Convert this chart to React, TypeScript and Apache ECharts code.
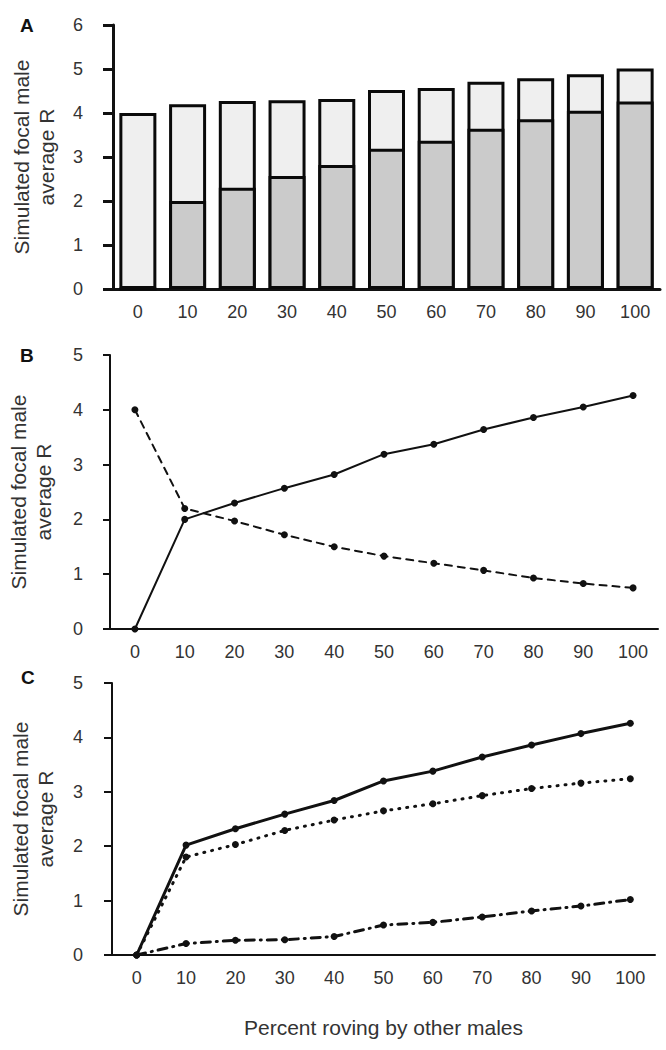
import React, { useEffect, useRef } from "react";
import * as echarts from "echarts";

const categories = ["0", "10", "20", "30", "40", "50", "60", "70", "80", "90", "100"];
// Panel A / B: roving vs sitting components of focal male R
const rovingR = [0, 2.0, 2.3, 2.57, 2.82, 3.19, 3.37, 3.64, 3.86, 4.05, 4.26];
const sittingR = [4.0, 2.2, 1.97, 1.72, 1.5, 1.33, 1.2, 1.07, 0.93, 0.83, 0.75];
// Panel C
const totalC = [0, 2.02, 2.32, 2.59, 2.84, 3.2, 3.38, 3.64, 3.86, 4.07, 4.26];
const dottedC = [0, 1.8, 2.03, 2.29, 2.48, 2.65, 2.78, 2.93, 3.06, 3.16, 3.24];
const dashDotC = [0, 0.21, 0.27, 0.28, 0.34, 0.55, 0.6, 0.7, 0.81, 0.9, 1.02];

const yTitle = "Simulated focal male\naverage R";
const xTitle = "Percent roving by other males";
const FONT = "Liberation Sans, Arial, sans-serif";

export default function App() {
  const ref = useRef<HTMLDivElement>(null);
  useEffect(() => {
    document.body.style.margin = "0";
    if (!ref.current) return;
    const chart = echarts.init(ref.current, undefined, { renderer: "svg" });

    // stacked total for panel A (roving + sitting)
    const totalA = rovingR.map((v, i) => Math.round((v + sittingR[i]) * 100) / 100);

    const yAxisBase = (grid: number, max: number, axisW: number, tickLen: number, margin: number) => ({
      type: "value",
      gridIndex: grid,
      min: 0,
      max,
      interval: 1,
      splitLine: { show: false },
      axisLine: { show: true, lineStyle: { color: "#111", width: axisW } },
      axisTick: { show: true, length: tickLen, lineStyle: { color: "#111", width: axisW } },
      axisLabel: { fontSize: 18, color: "#333", fontFamily: FONT, margin },
      name: yTitle,
      nameLocation: "middle",
      nameGap: 54,
      nameTextStyle: { fontSize: 21, color: "#333", fontFamily: FONT, lineHeight: 25 },
    });
    const xAxisBase = (grid: number, axisW: number, withName: boolean) => ({
      type: "category",
      gridIndex: grid,
      data: categories,
      axisLine: { show: true, lineStyle: { color: "#111", width: axisW } },
      axisTick: { show: false },
      axisLabel: { fontSize: 18, color: "#333", fontFamily: FONT, margin: 14 },
      ...(withName
        ? {
            name: xTitle,
            nameLocation: "middle",
            nameGap: 62,
            nameTextStyle: { fontSize: 21, color: "#333", fontFamily: FONT },
          }
        : {}),
    });

    const lineSeries = (xi: number, data: number[], type: any, width: number, sym: number) => ({
      type: "line",
      xAxisIndex: xi,
      yAxisIndex: xi,
      data,
      symbol: "circle",
      symbolSize: sym,
      itemStyle: { color: "#111" },
      lineStyle: { color: "#111", width, type, cap: "round" },
      z: 3,
    });

    chart.setOption({
      animation: false,
      backgroundColor: "#fff",
      textStyle: { fontFamily: FONT },
      grid: [
        { left: 113, right: 6, top: 25, height: 264, outerBoundsMode: "none" },
        { left: 110, right: 8, top: 355, height: 274, outerBoundsMode: "none" },
        { left: 112, right: 11, top: 683, height: 272, outerBoundsMode: "none" },
      ],
      xAxis: [xAxisBase(0, 3, false), xAxisBase(1, 2, false), xAxisBase(2, 2, true)],
      yAxis: [yAxisBase(0, 6, 3, 10, 30), yAxisBase(1, 5, 2, 7, 27), yAxisBase(2, 5, 2, 8, 29)],
      graphic: [
        { type: "text", left: 20, top: 16, style: { text: "A", font: `bold 19px ${FONT}`, fill: "#111" } },
        { type: "text", left: 20, top: 346, style: { text: "B", font: `bold 19px ${FONT}`, fill: "#111" } },
        { type: "text", left: 21, top: 668, style: { text: "C", font: `bold 19px ${FONT}`, fill: "#111" } },
      ],
      series: [
        {
          type: "bar",
          xAxisIndex: 0,
          yAxisIndex: 0,
          data: totalA,
          barWidth: 37,
          barGap: "-100%",
          itemStyle: { color: "#efefef", borderColor: "#0a0a0a", borderWidth: 3 },
          z: 2,
        },
        {
          type: "bar",
          xAxisIndex: 0,
          yAxisIndex: 0,
          data: rovingR,
          barWidth: 37,
          barGap: "-100%",
          itemStyle: { color: "#cbcbcb", borderColor: "#0a0a0a", borderWidth: 3 },
          z: 3,
        },
        lineSeries(1, rovingR, "solid", 2, 7),
        lineSeries(1, sittingR, [7, 6], 2, 7),
        lineSeries(2, totalC, "solid", 3, 7),
        lineSeries(2, dottedC, [1, 7], 3, 7),
        lineSeries(2, dashDotC, [9, 6, 1, 6], 3, 7),
      ],
    });
    return () => chart.dispose();
  }, []);
  return (
    <div
      ref={ref}
      style={{ width: 666, height: 1050, position: "absolute", left: 0, top: 0, background: "#fff" }}
    />
  );
}
